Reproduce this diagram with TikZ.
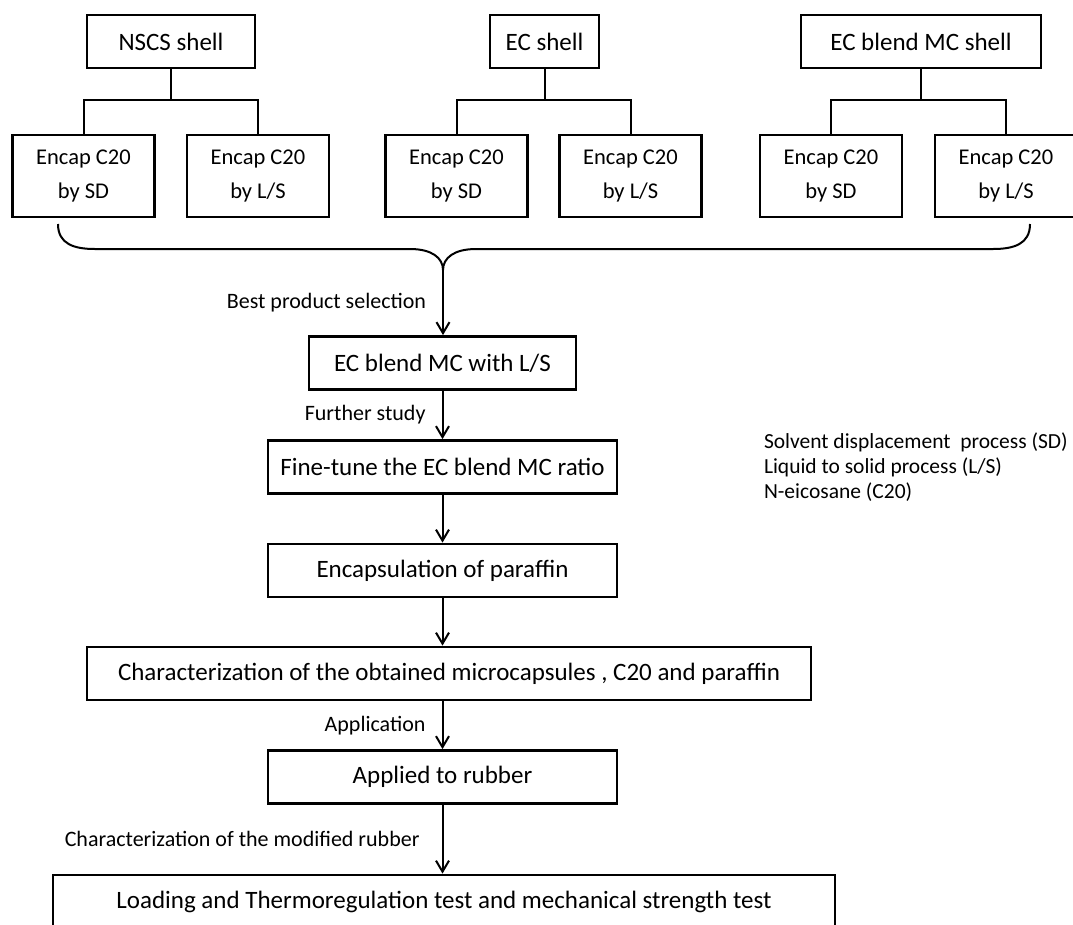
\documentclass[tikz,border=0pt]{standalone}
\usepackage{fontspec}
\setmainfont{Carlito}
\usetikzlibrary{arrows.meta}

\begin{document}
\begin{tikzpicture}[x=1pt,y=-1pt,line width=2pt,
        box/.style={draw,line width=2.8pt,inner sep=0pt,align=center,font=\fontsize{25}{30}\selectfont},
        shellbox/.style={box,minimum height=53pt},
        encbox/.style={box,minimum width=142pt,minimum height=82pt,font=\fontsize{22.5}{34}\selectfont},
        stepbox/.style={box,minimum height=53pt},
        lbl/.style={inner sep=2pt,font=\fontsize{22}{25}\selectfont},
        arr/.style={-{Straight Barb[length=11pt,width=13pt]}}]
    \useasboundingbox (0,0) rectangle (1073,924);
    \node[shellbox,minimum width=168pt] (nscs) at (171,41.5) {NSCS shell};
    \node[shellbox,minimum width=109pt] (ec) at (544.5,41.5) {EC shell};
    \node[shellbox,minimum width=240pt] (ecmc) at (921,41.5) {EC blend MC shell};
    \node[encbox] (nscssd) at (83.5,176) {Encap C20\\by SD};
    \node[encbox] (nscsls) at (258,176) {Encap C20\\by L/S};
    \node[encbox] (ecsd) at (456.5,176) {Encap C20\\by SD};
    \node[encbox] (ecls) at (630.5,176) {Encap C20\\by L/S};
    \node[encbox] (ecmcsd) at (831,176) {Encap C20\\by SD};
    \node[encbox] (ecmcls) at (1006,176) {Encap C20\\by L/S};
    \foreach \p/\a/\b in {nscs/nscssd/nscsls,ec/ecsd/ecls,ecmc/ecmcsd/ecmcls}{
        \draw (\p.south) -- ++(0,31) coordinate (\p j);
        \draw (\a.north) |- (\p j) -| (\b.north);}
    \coordinate (bl) at (58,224);
    \coordinate (br) at (1030,224);
    \coordinate (tip) at (443,270);
    \draw (bl) .. controls (58,244) and (74,249) .. (95,249) -- (410,249) .. controls (432,249) and (443,258) .. (tip)
        .. controls (443,258) and (454,249) .. (476,249) -- (993,249) .. controls (1014,249) and (1030,244) .. (br);
    \node[stepbox,minimum width=267pt] (sel) at (442.5,363) {EC blend MC with L/S};
    \node[stepbox,minimum width=349pt] (tune) at (442.5,467) {Fine-tune the EC blend MC ratio};
    \node[stepbox,minimum width=349pt] (encp) at (442.5,570.5) {Encapsulation of paraffin};
    \node[stepbox,minimum width=724pt] (charz) at (449,673.5) {Characterization of the obtained microcapsules , C20 and paraffin};
    \node[stepbox,minimum width=349pt] (rubber) at (442.5,777) {Applied to rubber};
    \node[stepbox,minimum width=782pt] (loadt) at (444,901.5) {Loading and Thermoregulation test and mechanical strength test};
    \draw[arr] (tip) -- (tip |- sel.north) node[lbl,midway,left=14pt] (lbest) {Best product selection};
    \draw[arr] (sel.south) -- (tune.north) node[lbl,midway,left=14pt] (lfurther) {Further study};
    \draw[arr] (tune.south) -- (encp.north);
    \draw[arr] (encp.south) -- (encp.south |- charz.north);
    \draw[arr] (rubber.north |- charz.south) -- (rubber.north) node[lbl,midway,left=14pt] (lapp) {Application};
    \draw[arr] (rubber.south) -- (rubber.south |- loadt.north) node[lbl,midway,left=20pt] (lmod) {Characterization of the modified rubber};
    \node[lbl,align=left,anchor=west,font=\fontsize{21.5}{25}\selectfont] (legend) at (761,467) {Solvent displacement~ process (SD)\\Liquid to solid process (L/S)\\N-eicosane (C20)};
\end{tikzpicture}
\end{document}
